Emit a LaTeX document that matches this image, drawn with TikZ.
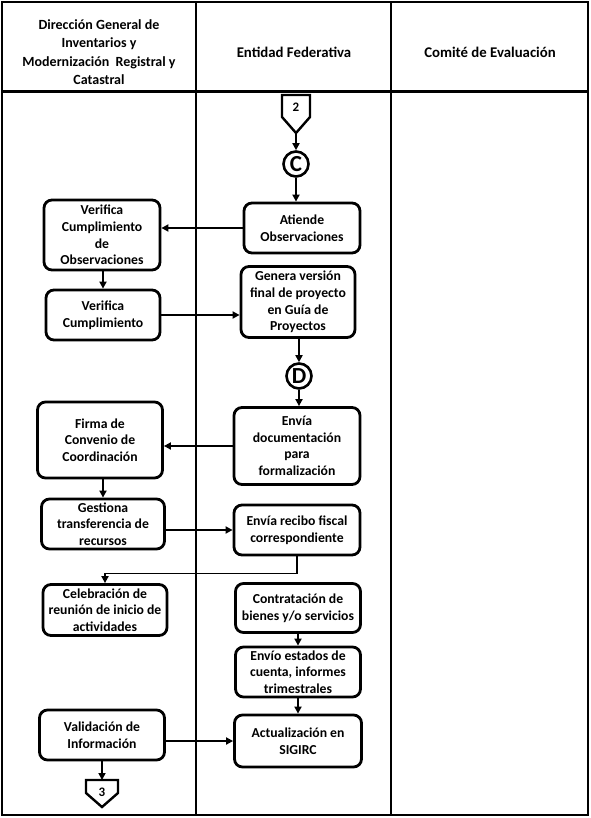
\documentclass[tikz,border=0pt]{standalone}
\usepackage{fontspec}
\setmainfont{Carlito}
\usetikzlibrary{arrows.meta}

\tikzset{
  proc/.style={draw, line width=2.8pt, rounded corners=8pt, align=center, inner sep=2pt,
    font=\fontsize{13.7}{16.6}\selectfont\bfseries},
  flow/.style={line width=1.7pt, -{Triangle[length=7pt,width=7pt]}},
  conector/.style={circle, draw, line width=2.6pt, minimum size=25pt, inner sep=0pt,
    font=\fontsize{23}{23}\selectfont\bfseries},
  offpage/.style={line width=2.4pt, line join=miter},
  lane/.style={line width=2.6pt},
  title/.style={align=center, font=\fontsize{14}{18.3}\selectfont\bfseries}
}

\begin{document}
\begin{tikzpicture}[x=1pt, y=-1pt]
    \useasboundingbox (0,0) rectangle (590,818);

    % Swimlanes
    \draw [lane] (2,2) rectangle (588,815);
    \draw [lane] (196,2) -- (196,815);
    \draw [lane] (391,2) -- (391,815);
    \draw [line width=3pt] (2,92) -- (588,92);
    \node [title] (lane1) at (99,52) {Direcci\'on General de\\Inventarios y\\Modernizaci\'on~ Registral y\\Catastral};
    \node [title, font=\fontsize{14.8}{18.3}\selectfont\bfseries] (lane2) at (294,52) {Entidad Federativa};
    \node [title, font=\fontsize{14.8}{18.3}\selectfont\bfseries] (lane3) at (490,52) {Comit\'e de Evaluaci\'on};

    % Off-page connector 2
    \draw [offpage] (282,95) -- (310,95) -- (310,117) -- (296,133) -- (282,117) -- cycle;
    \node [font=\fontsize{13}{13}\selectfont\bfseries] (pag2) at (296,107) {2};
    \coordinate (pag2tip) at (296,133);

    % Connectors C and D
    \node [conector] (conC) at (296,164) {C};
    \node [conector] (conD) at (299,376) {D};

    % Entidad Federativa
    \node [proc, minimum width=116pt, minimum height=50pt] (atiende) at (302,228) {Atiende\\Observaciones};
    \node [proc, minimum width=114pt, minimum height=71pt] (genera) at (298,302) {Genera versi\'on\\final de proyecto\\en Gu\'ia de\\Proyectos};
    \node [proc, minimum width=126pt, minimum height=77pt] (envdoc) at (297,446) {Env\'ia\\documentaci\'on\\para\\formalizaci\'on};
    \node [proc, minimum width=126pt, minimum height=50pt] (recibo) at (297,530) {Env\'ia recibo fiscal\\correspondiente};
    \node [proc, minimum width=125pt, minimum height=49pt] (contrata) at (298,608) {Contrataci\'on de\\bienes y/o servicios};
    \node [proc, minimum width=125pt, minimum height=50pt] (estados) at (298,672) {Env\'io estados de\\cuenta, informes\\trimestrales};
    \node [proc, minimum width=127pt, minimum height=52pt] (sigirc) at (298,741) {Actualizaci\'on en\\SIGIRC};

    % Direccion General
    \node [proc, minimum width=116pt, minimum height=70pt] (verobs) at (102,235) {Verifica\\Cumplimiento\\de\\Observaciones};
    \node [proc, minimum width=114pt, minimum height=50pt] (vercum) at (103,315) {Verifica\\Cumplimiento};
    \node [proc, minimum width=125pt, minimum height=76pt] (firma) at (100,440) {Firma de\\Convenio de\\Coordinaci\'on};
    \node [proc, minimum width=123pt, minimum height=50pt] (gestiona) at (103,524) {Gestiona\\transferencia de\\recursos};
    \node [proc, minimum width=124pt, minimum height=51pt] (reunion) at (105,610) {Celebraci\'on de\\reuni\'on de inicio de\\actividades};
    \node [proc, minimum width=125pt, minimum height=50pt] (valida) at (102,735) {Validaci\'on de\\Informaci\'on};

    % Off-page connector 3
    \draw [offpage] (86,780) -- (118,780) -- (118,793) -- (102,807) -- (86,793) -- cycle;
    \node [font=\fontsize{13}{13}\selectfont\bfseries] (pag3) at (102,792) {3};
    \coordinate (pag3top) at (102,780);

    % Flow
    \draw [flow] (pag2tip) -- (conC);
    \draw [flow] (conC) -- (conC |- atiende.north);
    \draw [flow] (atiende.west) -- (atiende.west -| verobs.east);
    \draw [flow] (verobs.south -| vercum.north) -- (vercum.north);
    \draw [flow] (vercum.east) -- (vercum.east -| genera.west);
    \draw [flow] (genera.south -| conD) -- (conD);
    \draw [flow] (conD) -- (conD |- envdoc.north);
    \draw [flow] (envdoc.west) -- (envdoc.west -| firma.east);
    \draw [flow] (firma.south -| gestiona.north) -- (gestiona.north);
    \draw [flow] (gestiona.east |- recibo.west) -- (recibo.west);
    \draw [flow] (recibo.south) -- ++(0,17) -| (reunion.north);
    \draw [flow] (contrata.south) -- (estados.north);
    \draw [flow] (estados.south) -- (sigirc.north);
    \draw [flow] (valida.east |- sigirc.west) -- (sigirc.west);
    \draw [flow] (valida.south) -- (pag3top);
\end{tikzpicture}
\end{document}
